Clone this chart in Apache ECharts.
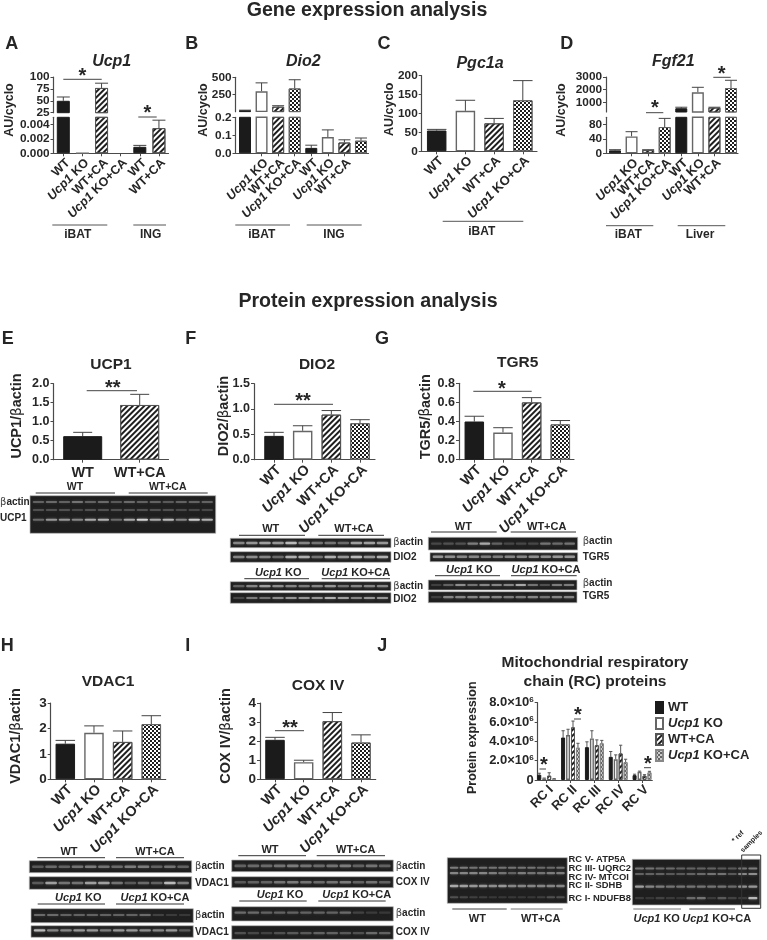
<!DOCTYPE html>
<html><head><meta charset="utf-8">
<style>html,body{margin:0;padding:0;background:#fff}#c{width:767px;height:940px}</style>
<script src="https://cdn.jsdelivr.net/npm/echarts@6/dist/echarts.min.js"></script>
</head><body><div id="c"></div>
<script>
// ---------- categories ----------
const catsFour = ['WT', 'KO', 'WT+CA', 'KOCA'];
const catsA = ['WT', 'KO', 'WT+CA', 'KOCA', 'WT', 'WT+CA'];
const catsEight = ['WT', 'KO', 'WT+CA', 'KOCA', 'WT', 'KO', 'WT+CA', 'KOCA'];
const catsE = ['WT', 'WT+CA'];
const catsJ = ['RC I', 'RC II', 'RC III', 'RC IV', 'RC V'];
// ---------- values ----------
const ucp1Vals = [50, 0, 77, null, 0.0009, 0.0035];
const ucp1Errs = [58, null, 87, null, 0.0011, 0.0046];
const dio2Vals = [25, 300, 78, 340, 0.03, 0.09, 0.06, 0.07];
const dio2Errs = [28, 420, 92, 465, 0.045, 0.13, 0.075, 0.085];
const pgc1aVals = [55, 107, 74, 135];
const pgc1aErrs = [58, 135, 87, 187];
const fgf21Vals = [8, 47, 9, 73, 530, 1790, 585, 2130];
const fgf21Errs = [10, 60, 10, 97, 610, 2185, 610, 2740];
const ucp1pVals = [0.62, 1.44];
const ucp1pErrs = [0.72, 1.72];
const dio2pVals = [0.47, 0.57, 0.89, 0.72];
const dio2pErrs = [0.54, 0.67, 0.97, 0.79];
const tgr5Vals = [0.40, 0.285, 0.60, 0.37];
const tgr5Errs = [0.455, 0.335, 0.65, 0.41];
const vdac1Vals = [1.4, 1.83, 1.47, 2.17];
const vdac1Errs = [1.53, 2.1, 1.9, 2.5];
const coxVals = [2.07, 0.9, 3.05, 1.93];
const coxErrs = [2.2, 1.0, 3.5, 2.33];
const rcWT = [0.55e6, 4.4e6, 3.4e6, 2.4e6, 0.5e6];
const rcWTErr = [0.7e6, 5.1e6, 3.95e6, 2.95e6, 0.6e6];
const rcKO = [0.15e6, 4.65e6, 4.3e6, 2.15e6, 0.85e6];
const rcKOErr = [0.2e6, 5.25e6, 5.1e6, 2.6e6, 0.92e6];
const rcCA = [0.45e6, 5.45e6, 3.6e6, 2.75e6, 0.45e6];
const rcCAErr = [0.75e6, 6.1e6, 4.15e6, 3.6e6, 0.55e6];
const rcKOCA = [0.12e6, 3.35e6, 3.8e6, 1.85e6, 0.8e6];
const rcKOCAErr = [0.15e6, 3.8e6, 4.1e6, 2.15e6, 0.9e6];
// ---------- blot lane intensities (read by eye) ----------
const eActin = [.3,.35,.3,.4,.3,.35,.25,.35,.3,.3,.25,.3,.3,.3];
const eMid = [.2,.2,.2,.15,.2,.2,.2,.2,.2,.2,.2,.15,.15,.15];
const eUcp1 = [.35,.6,.6,.5,.7,.75,.35,.7,.95,.7,.8,.5,.9,.75];
const fA1 = [.5,.6,.65,.6,.8,.5,.4,.4,.35,.65,.65,.6];
const fD1 = [.5,.55,.5,.35,.75,.75,.4,.75,.6,.8,.6,.75];
const fA2 = [.3,.5,.65,.55,.5,.45,.5,.6,.4,.5,.5,.5];
const fD2 = [.15,.45,.4,.55,.6,.6,.6,.75,.65,.5,.6,.6];
const gA1 = [.15,.2,.2,.45,.7,.3,.15,.15,.15,.4,.35,.4];
const gT1 = [.6,.55,.5,.5,.45,.45,.5,.5,.55,.55,.6,.6];
const gA2 = [.1,.3,.55,.4,.5,.5,.5,.7,.4,.2,.45,.45];
const gT2 = [.1,.5,.5,.5,.55,.5,.45,.45,.5,.4,.5,.5];
const hA1 = [.25,.35,.3,.4,.45,.4,.35,.45,.45,.3,.4,.3];
const hV1 = [.25,.65,.4,.4,.65,.65,.4,.25,.35,.3,.8,.45];
const hA2 = [.35,.35,.3,.3,.3,.3,.3,.3,.35,.12,.08,.06];
const hV2 = [.8,.5,.5,.6,.6,.45,.6,.6,.55,.5,.6,.25];
const iA1 = [.3,.35,.35,.4,.45,.4,.35,.4,.45,.3,.4,.3];
const iC1 = [.25,.3,.3,.4,.45,.4,.35,.4,.45,.3,.4,.3];
const iA2 = [.35,.35,.3,.3,.3,.3,.3,.3,.35,.12,.08,.06];
const iC2 = [.2,.15,.12,.2,.25,.25,.3,.3,.25,.2,.35,.3];
const jL5 = [.45,.45,.4,.4,.4,.4,.4,.4,.4,.35,.35,.4];
const jL3 = [.5,.5,.5,.5,.45,.4,.3,.45,.4,.4,.45,.45];
const jL2 = [.7,.65,.6,.6,.55,.6,.5,.5,.5,.5,.5,.5];
const jL1 = [.2,.15,.1,.1,.06,.06,.06,.06,.06,.1,.2,.2];
const jR5 = [.4,.4,.35,.35,.3,.3,.3,.3,.25,.25,.4,.45];
const jR3 = [.3,.3,.3,.25,.25,.3,.35,.4,.4,.25,.5,.55];
const jR2 = [.65,.5,.45,.4,.4,.4,.4,.4,.4,.35,.55,.6];
const jR1 = [.08,.05,.12,.08,.05,.35,.4,.08,.25,.12,.08,.8];

const INK = '#262626', AX = '#4a4a4a', FF = '"Liberation Sans",Arial,sans-serif';
const decalStripe = {symbol:'rect',symbolSize:1,dashArrayX:[1,0],dashArrayY:[2,2],rotation:-Math.PI/4,color:'#1e1e1e'};
const decalCheck = {symbol:'rect',symbolSize:1,dashArrayX:[[1.5,1.5],[0,1.5,1.5,0]],dashArrayY:[1.5,0],color:'#1e1e1e'};
const decalCheckLight = {symbol:'rect',symbolSize:1,dashArrayX:[[1.5,1.5],[0,1.5,1.5,0]],dashArrayY:[1.5,0],color:'#666'};
const S = {
  solid:{color:'#1b1b1b',borderColor:'#1b1b1b',borderWidth:1},
  open:{color:'#fff',borderColor:'#666',borderWidth:1.4},
  stripe:{color:'#fff',borderColor:'#555',borderWidth:1,decal:decalStripe},
  check:{color:'#fff',borderColor:'#666',borderWidth:1,decal:decalCheck},
  lightCheck:{color:'#ccc',borderColor:'#888',borderWidth:1,decal:decalCheckLight}
};
const fillsFour = ['solid','open','stripe','check'];
const rich = {
  s:{fontFamily:FF,fontWeight:'bold',fontSize:8,verticalAlign:'top',color:INK,padding:[0,0,6,0]}
};
function labelOf(c){
  if(c==='KO') return '{i|Ucp1} KO';
  if(c==='KOCA') return '{i|Ucp1} KO+CA';
  return c;
}
const grids=[],xAxes=[],yAxes=[],series=[],graphic=[];
function txt(x,y,text,o){o=o||{};
  const st={text:text,fontFamily:FF,fontWeight:o.weight||'bold',fontStyle:o.style||'normal',fontSize:o.size||12,fill:o.fill||INK,align:o.align||'center',verticalAlign:'middle'};
  if(o.rich) st.rich=o.rich;
  graphic.push({type:'text',x:x,y:y,rotation:o.rot||0,style:st,silent:true,z:20});
}
function line(x1,y1,x2,y2,col,w){
  graphic.push({type:'line',shape:{x1,y1,x2,y2},style:{stroke:col||'#444',lineWidth:w||1},silent:true,z:20});
}
function errSeries(name,xs,vals,errs,cap,xi,yi,min,max,col){
  const d=[];
  xs.forEach((x,i)=>{ if(errs[i]!=null && vals[i]!=null && errs[i]<=max && errs[i]>min && vals[i]<=max*1.0001) d.push([x,vals[i],errs[i]]); });
  series.push({type:'custom',name:name,xAxisIndex:xi,yAxisIndex:yi,silent:true,clip:false,z:1,data:d,legendHoverLink:false,
    encode:{x:0,y:[1,2]},
    renderItem:function(p,api){
      const a=api.coord([api.value(0),api.value(1)]),b=api.coord([api.value(0),api.value(2)]);
      return {type:'group',children:[
        {type:'line',shape:{x1:a[0],y1:a[1],x2:b[0],y2:b[1]},style:{stroke:col||'#444',lineWidth:1}},
        {type:'line',shape:{x1:a[0]-cap,y1:b[1],x2:a[0]+cap,y2:b[1]},style:{stroke:col||'#444',lineWidth:1}}]};
    }});
}
function yAxis(gi,seg,size){
  return {type:'value',gridIndex:gi,min:seg.min,max:seg.max,splitLine:{show:false},
    axisLine:{show:true,onZero:false,lineStyle:{color:AX,width:1.2}},
    axisTick:{show:true,length:3,inside:false,lineStyle:{color:AX},customValues:seg.ticks},
    axisLabel:{show:true,margin:4,hideOverlap:false,fontFamily:FF,fontWeight:'bold',fontSize:size||11.8,color:INK,customValues:seg.ticks,
      formatter:seg.fmt||(v=>String(v)),rich:rich,showMinLabel:true,showMaxLabel:true}};
}
function panel(c){
  const pos=c.cats.map((_,i)=>i);
  const xmin=(c.ax-c.c0)/c.step,xmax=(c.end-c.c0)/c.step,xs=c.xSize||12.8;
  c.segs.forEach((seg,si)=>{
    const gi=grids.length,bottom=si===c.segs.length-1,rot=c.rot==null?45:c.rot;
    grids.push({left:c.ax,width:c.end-c.ax,top:seg.top,height:seg.bottom-seg.top,containLabel:false});
    xAxes.push({type:'value',gridIndex:gi,min:xmin,max:xmax,show:bottom,splitLine:{show:false},
      axisLine:{show:true,onZero:false,lineStyle:{color:AX,width:1.2}},
      axisTick:{show:true,length:3,lineStyle:{color:AX},customValues:pos},
      axisLabel:{show:true,interval:0,hideOverlap:false,rotate:rot,verticalAlign:rot?'top':undefined,margin:c.xMargin||3,fontFamily:FF,fontWeight:'bold',fontSize:xs,color:INK,
        customValues:pos,formatter:v=>labelOf(c.cats[Math.round(v)]),
        rich:{i:{fontFamily:FF,fontWeight:'bold',fontStyle:'italic',fontSize:xs,color:INK}}}});
    yAxes.push(yAxis(gi,seg,c.ySize));
    series.push({type:'bar',xAxisIndex:gi,yAxisIndex:gi,barWidth:c.bw,clip:true,silent:true,z:2,
      data:c.cats.map((_,i)=>{const v=c.vals[i];
        if(v==null||v<seg.min) return null;
        return {value:[i,v],itemStyle:S[c.fills[i%c.fills.length]]};}).filter(Boolean)});
    errSeries('e',pos,c.vals,c.errs,c.cap||c.bw/2,gi,gi,seg.min,seg.max);
  });
}
function blot(x0,x1,y0,y1,rows,bg){
  graphic.push({type:'rect',shape:{x:x0,y:y0,width:x1-x0,height:y1-y0},style:{fill:bg||'#1f1f1f',stroke:'#b5b5b5',lineWidth:.7},silent:true,z:10});
  rows.forEach(r=>{
    const lanes=r.lanes,m=lanes.length,w=(x1-x0-4)/m;
    lanes.forEach((a,i)=>{
      const g=Math.round(45+175*a);
      graphic.push({type:'rect',shape:{x:x0+2+i*w+w*.06,y:y0+(y1-y0)*r.p-(r.h||2)/2,width:w*.88,height:r.h||2,r:1},
        style:{fill:'rgb('+g+','+g+','+g+')',shadowBlur:3,shadowColor:'rgba(200,200,200,'+(a*.6)+')'},silent:true,z:11});
    });
  });
}
function head(cx,y,s,lx0,lx1,ly,size){
  txt(cx,y,s,{size:size||10.5,rich:{i:{fontFamily:FF,fontWeight:'bold',fontStyle:'italic',fontSize:size||10.5,fill:INK}}});
  if(lx0!=null) line(lx0,ly,lx1,ly,'#333',1);
}
const betaRich={b:{fontFamily:'"DejaVu Sans",sans-serif',fontWeight:'normal',fontSize:10,fill:'#444'}};
function yTitle(x,cy,s,size){
  txt(x,cy,s,{size:size||14.5,rot:Math.PI/2,rich:{b:{fontFamily:'"DejaVu Sans",sans-serif',fontWeight:'normal',fontSize:(size||14.5)-1,fill:INK}}});
}
function star(x,y,s,x0,x1,ly,col){
  txt(x,y+4,s,{size:20,weight:'bold'});
  line(x0,ly,x1,ly,col||'#444',1);
}
const fix=(n)=>(v=>v.toFixed(n));

// ---------- Gene panels ----------
panel({cats:catsA,ax:53.5,end:168.5,c0:63.3,step:19.13,bw:13,vals:ucp1Vals,errs:ucp1Errs,xSize:12.5,
  fills:['solid','open','stripe','check','solid','stripe'],
  segs:[{top:77,bottom:112.7,min:25,max:100,ticks:[25,50,75,100]},
        {top:117.3,bottom:153.3,min:0,max:0.005,ticks:[0,0.002,0.004],fmt:fix(3)}]});
panel({cats:catsEight,ax:235.5,end:368.5,c0:245,step:16.57,bw:12,vals:dio2Vals,errs:dio2Errs,fills:fillsFour,xSize:12.5,
  segs:[{top:77.3,bottom:111.7,min:6,max:500,ticks:[250,500]},
        {top:117.3,bottom:153.3,min:0,max:0.2,ticks:[0,0.1,0.2],fmt:fix(1)}]});
panel({cats:catsFour,ax:421.7,end:537,c0:436.7,step:28.7,bw:19.5,vals:pgc1aVals,errs:pgc1aErrs,fills:fillsFour,xSize:13,
  segs:[{top:75.7,bottom:151.3,min:0,max:200,ticks:[0,50,100,150,200]}]});
panel({cats:catsEight,ax:606,end:738,c0:615,step:16.57,bw:12,vals:fgf21Vals,errs:fgf21Errs,fills:fillsFour,
  segs:[{top:77,bottom:112,min:233,max:3000,ticks:[1000,2000,3000]},
        {top:117.3,bottom:153.3,min:0,max:100,ticks:[0,40,80]}]});
// ---------- Protein panels ----------
panel({cats:catsE,ax:53.5,end:168.5,c0:82.7,step:57,bw:39,vals:ucp1pVals,errs:ucp1pErrs,fills:['solid','stripe'],rot:0,xSize:14.5,xMargin:6,ySize:12.5,cap:9.5,
  segs:[{top:383.7,bottom:459.7,min:0,max:2,ticks:[0,.5,1,1.5,2],fmt:fix(1)}]});
panel({cats:catsFour,ax:254,end:375,c0:274,step:28.67,bw:19.5,vals:dio2pVals,errs:dio2pErrs,fills:fillsFour,xSize:14.4,ySize:12.5,
  segs:[{top:383.7,bottom:459.7,min:0,max:1.5,ticks:[0,.5,1,1.5],fmt:fix(1)}]});
panel({cats:catsFour,ax:459,end:574,c0:474.3,step:28.67,bw:19.5,vals:tgr5Vals,errs:tgr5Errs,fills:fillsFour,xSize:14.4,ySize:12.5,
  segs:[{top:383.3,bottom:459.7,min:0,max:.8,ticks:[0,.2,.4,.6,.8],fmt:fix(1)}]});
panel({cats:catsFour,ax:50.7,end:165.7,c0:65.3,step:28.67,bw:19.5,vals:vdac1Vals,errs:vdac1Errs,fills:fillsFour,xSize:14.4,ySize:13.5,
  segs:[{top:703,bottom:779.3,min:0,max:3,ticks:[0,1,2,3]}]});
panel({cats:catsFour,ax:260,end:375.7,c0:275,step:28.67,bw:19.5,vals:coxVals,errs:coxErrs,fills:fillsFour,xSize:14.4,ySize:13.5,
  segs:[{top:703,bottom:779.3,min:0,max:4,ticks:[0,1,2,3,4]}]});

// ---------- Panel J ----------
(function(){
  const gi=grids.length,ax=537.7,end=652.3,c0=546.7,step=23.83;
  const pos=catsJ.map((_,i)=>i),tk=[0,2e6,4e6,6e6,8e6];
  grids.push({left:ax,width:end-ax,top:702.7,height:77.3});
  xAxes.push({type:'value',gridIndex:gi,min:(ax-c0)/step,max:(end-c0)/step,splitLine:{show:false},
    axisLine:{onZero:false,lineStyle:{color:AX,width:1.2}},
    axisTick:{show:true,length:3,lineStyle:{color:AX},customValues:pos},
    axisLabel:{rotate:45,verticalAlign:'top',margin:3,fontFamily:FF,fontWeight:'bold',fontSize:13,color:INK,customValues:pos,hideOverlap:false,formatter:v=>catsJ[Math.round(v)]}});
  yAxes.push(yAxis(gi,{min:0,max:8e6,ticks:tk,fmt:v=>v===0?'0':(v/1e6).toFixed(1)+'×10{s|6}'},13));
  const defs=[['WT',rcWT,rcWTErr,'solid'],['KO',rcKO,rcKOErr,'open'],['WT+CA',rcCA,rcCAErr,'stripe'],['KOCA',rcKOCA,rcKOCAErr,'lightCheck']];
  defs.forEach((d,k)=>{
    const xs=pos.map(i=>i+(k-1.5)*0.208);
    series.push({type:'bar',name:d[0],xAxisIndex:gi,yAxisIndex:gi,barWidth:4,barGap:'-100%',silent:true,z:2,itemStyle:S[d[3]],
      data:xs.map((x,i)=>[x,d[1][i]])});
    errSeries('e',xs,d[1],d[2],1.6,gi,gi,0,8e6,'#555');
  });
})();

// ---------- Text ----------
[['Gene expression analysis',367,11],['Protein expression analysis',368,302]].forEach(t=>txt(t[1],t[2],t[0],{size:19.6}));
[['A',11.7,44.3],['B',191.7,44.3],['C',384,44.3],['D',566.7,44.3],['E',7.7,339.3],['F',190.7,339.3],['G',382,339.3],['H',7.3,646],['I',187.7,646],['J',382.3,646]]
  .forEach(t=>txt(t[1],t[2],t[0],{size:18}));
[['Ucp1',111.7,62],['Dio2',303.3,62],['Pgc1a',480,63.3],['Fgf21',673.3,62]].forEach(t=>txt(t[1],t[2],t[0],{size:16,style:'italic'}));
[['UCP1',111,365],['DIO2',317,365],['TGR5',517.7,363],['VDAC1',108,682],['COX IV',318,686]].forEach(t=>txt(t[1],t[2],t[0],{size:15.5}));
txt(595,662.7,'Mitochondrial respiratory',{size:15.5});
txt(595,681.7,'chain (RC) proteins',{size:15.5});
[[10,110],[204,110],[389.3,109.3],[561.7,110]].forEach(p=>yTitle(p[0],p[1],'AU/cyclo',12.5));
yTitle(17,416,'UCP1/{b|β}actin');yTitle(224,416,'DIO2/{b|β}actin');yTitle(425.7,416.7,'TGR5/{b|β}actin');
yTitle(16,736,'VDAC1/{b|β}actin');yTitle(226,736,'COX IV/{b|β}actin');
yTitle(472.3,737.7,'Protein expression',12.5);
// group brackets
[[52.3,107.3,225,'iBAT',77.7,234.5],[133.3,166,225,'ING',150.7,234.5],[235.3,290,225,'iBAT',261.7,234.5],[306.7,361.7,225,'ING',334,234.5],
 [442.7,523.3,221.3,'iBAT',481.7,231.7],[606,653.3,225.7,'iBAT',628.3,234.7],[677.7,725.3,225.7,'Liver',700,234.7]].forEach(g=>{
  line(g[0],g[2],g[1],g[2],'#555',1);txt(g[4],g[5],g[3],{size:12});
});
// significance
star(82.3,72.7,'*',63.3,101.7,79.3);star(147.3,109.3,'*',138.3,156.7,117);
star(655,104.3,'*',646,663.3,112.7);star(721.7,70.3,'*',713.3,730.7,77.3);
star(112.7,384,'**',86.7,137,390.7);star(303,397,'**',274,333,404.3);star(502,385,'*',473.3,531.7,391.3);star(290,724,'**',275,304,730.7);
star(544,761.7,'*',539.5,546,769);star(578,711.7,'*',574,581,719);star(648,760,'*',644,651,767.7);

// ---------- Blots ----------
blot(30,215.7,495.7,533.3,[{p:.17,h:2,lanes:eActin},{p:.38,h:2,lanes:eMid},{p:.64,h:2.2,lanes:eUcp1}]);
head(75,486.7,'WT',35.7,115,493,10.5);head(167.7,486.7,'WT+CA',128.7,207.7,493,10.5);
txt(0,502.3,'{b|β}actin',{align:'left',size:10,rich:betaRich});txt(0,518.3,'UCP1',{align:'left',size:10});

blot(230.3,391,538.3,547.7,[{p:.5,h:2.6,lanes:fA1}]);blot(230.3,391,551.7,562.3,[{p:.5,h:2.6,lanes:fD1}]);
blot(230.3,391,581.7,590.7,[{p:.5,h:2.2,lanes:fA2}]);blot(230.3,391,592.7,603.3,[{p:.5,h:2.2,lanes:fD2}]);
head(270.7,529,'WT',239,305,535.3,11);head(354,529,'WT+CA',318.3,384,535.3,11);
head(278.3,572.7,'{i|Ucp1} KO',244.3,309,578.7,11);head(355.7,572.7,'{i|Ucp1} KO+CA',321.7,390,578.7,11);
const lab=(x,y,s)=>txt(x,y,s,{align:'left',size:10,rich:betaRich});
lab(393.3,542.7,'{b|β}actin');lab(393.3,557.7,'DIO2');lab(393.3,586.7,'{b|β}actin');lab(393.3,599.3,'DIO2');

blot(428.3,577.7,537.3,550,[{p:.5,h:2.4,lanes:gA1}]);blot(430,577.7,552.7,561.7,[{p:.45,h:2.6,lanes:gT1}]);
blot(428.3,577,580,590,[{p:.5,h:2.2,lanes:gA2}]);blot(428.3,577,591.7,602.7,[{p:.5,h:2.2,lanes:gT2}]);
head(463.3,526.7,'WT',431,496.7,532,11);head(546.7,526.7,'WT+CA',510.7,576,532,11);
head(469.3,570,'{i|Ucp1} KO',435,500,575.7,11);head(546,570,'{i|Ucp1} KO+CA',511,576.7,575.7,11);
lab(582.7,541.7,'{b|β}actin');lab(582.7,557.7,'TGR5');lab(582.7,583.3,'{b|β}actin');lab(582.7,596,'TGR5');

blot(29.3,191.7,860.7,872.7,[{p:.5,h:2.6,lanes:hA1}]);blot(29.3,191.7,876.7,889.3,[{p:.5,h:2.6,lanes:hV1}]);
blot(31,193.3,908.7,922.7,[{p:.45,h:2.2,lanes:hA2}]);blot(31,193.3,925.7,937.3,[{p:.4,h:2.2,lanes:hV2}]);
head(69,852.3,'WT',37.3,105,857.7,11);head(155,852.3,'WT+CA',116,184,857.7,11);
head(78.3,898.3,'{i|Ucp1} KO',37.7,105,904,11);head(155,898.3,'{i|Ucp1} KO+CA',116,184,904,11);
lab(195,866,'{b|β}actin');lab(195,883.3,'VDAC1');lab(195,915,'{b|β}actin');lab(195,932.7,'VDAC1');

blot(231.7,393.3,860,871.7,[{p:.5,h:2.6,lanes:iA1}]);blot(231.7,393.3,876.7,887.7,[{p:.5,h:2.6,lanes:iC1}]);
blot(231.7,393.3,906.7,921,[{p:.42,h:2.2,lanes:iA2}]);blot(231.7,393.3,925.7,939.3,[{p:.55,h:2.2,lanes:iC2}]);
head(270,850.3,'WT',238.3,306,855.7,11);head(355.7,850.3,'WT+CA',316.7,385,855.7,11);
head(280,895.3,'{i|Ucp1} KO',239.3,306.7,901,11);head(356.7,895.3,'{i|Ucp1} KO+CA',318.3,385.7,901,11);
lab(395.7,866,'{b|β}actin');lab(395.7,882.7,'COX IV');lab(395.7,913.3,'{b|β}actin');lab(395.7,932.7,'COX IV');

blot(447.3,567.3,857.7,903.3,[{p:.22,h:2.2,lanes:jL5},{p:.34,h:2.2,lanes:jL3},{p:.62,h:2.4,lanes:jL2},{p:.87,h:2,lanes:jL1}]);
blot(632.3,760,859.3,905,[{p:.2,h:2,lanes:jR5},{p:.32,h:2,lanes:jR3},{p:.6,h:2.2,lanes:jR2},{p:.85,h:2.2,lanes:jR1}]);
graphic.push({type:'rect',shape:{x:741.7,y:855,width:19,height:53.3},style:{fill:'none',stroke:'#333',lineWidth:1},silent:true,z:15});
[['RC V- ATP5A',859.3],['RC III- UQRC2',868.3],['RC IV- MTCOI',877],['RC II- SDHB',885.7],['RC I- NDUFB8',898.3]].forEach(r=>txt(568.5,r[1],r[0],{align:'left',size:9.4}));
line(452.3,909,506.7,909,'#444');line(510.7,909,562.7,909,'#777');line(633.3,909,681,909,'#777');line(689.3,909,735,909,'#444');
head(477.3,919.3,'WT',null,null,null,11);head(540.7,919.3,'WT+CA',null,null,null,11);
head(656.7,919.3,'{i|Ucp1} KO',null,null,null,11);head(716.7,919.3,'{i|Ucp1} KO+CA',null,null,null,11);
txt(738,836.7,'* ref',{size:7,rot:Math.PI/4});txt(751.5,841.5,'samples',{size:7,rot:Math.PI/4});

const chart=echarts.init(document.getElementById('c'),null,{renderer:'canvas',width:767,height:940});
chart.setOption({animation:false,backgroundColor:'#fff',textStyle:{fontFamily:FF},
  grid:grids,xAxis:xAxes,yAxis:yAxes,series:series,graphic:graphic,
  legend:{show:true,orient:'vertical',left:655,top:701,padding:0,icon:'rect',itemWidth:7,itemHeight:11,itemGap:3,selectedMode:false,
    data:['WT','KO','WT+CA','KOCA'],
    formatter:n=>labelOf(n),
    textStyle:{fontFamily:FF,fontWeight:'bold',fontSize:13,lineHeight:11,color:INK,rich:{i:{fontFamily:FF,fontWeight:'bold',fontStyle:'italic',fontSize:13,lineHeight:11,color:INK}}}}
});
</script></body></html>
